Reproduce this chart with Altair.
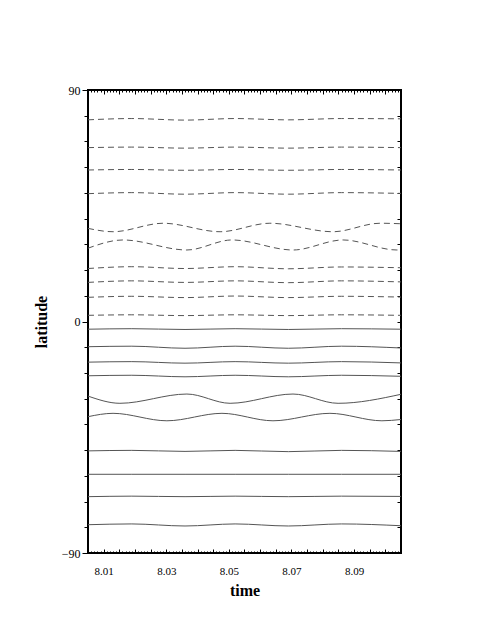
import altair as alt
import pandas as pd

# ---- data ----
T_FLAT = [8.005, 8.019, 8.036, 8.052, 8.069, 8.086, 8.105]

N1 = [78.4, 78.9, 78.3, 78.9, 78.4, 78.9, 78.8]
N2 = [67.6, 67.8, 67.4, 67.8, 67.4, 67.8, 67.6]
N3 = [58.9, 59.1, 58.8, 59.1, 58.8, 59.1, 58.9]
N4 = [49.7, 50.1, 49.5, 50.1, 49.5, 50.1, 49.8]
N7 = [20.6, 21.3, 20.6, 21.3, 20.5, 21.2, 20.9]
N8 = [15.2, 15.8, 15.2, 15.8, 15.1, 15.8, 15.4]
N9 = [9.4, 9.8, 9.3, 9.9, 9.3, 9.8, 9.5]
N10 = [2.4, 2.6, 2.3, 2.6, 2.3, 2.6, 2.4]

S1 = [-3.0, -2.8, -3.1, -2.8, -3.1, -2.8, -3.0]
S2 = [-9.8, -9.6, -10.4, -9.6, -10.4, -9.6, -10.3]
S3 = [-15.8, -15.6, -16.2, -15.6, -16.2, -15.6, -16.1]
S4 = [-21.1, -20.9, -21.5, -20.9, -21.5, -20.9, -21.3]
S7 = [-50.3, -50.1, -50.5, -50.1, -50.6, -50.1, -50.5]
S8 = [-59.4, -59.4, -59.4, -59.4, -59.4, -59.4, -59.4]
S9 = [-68.1, -67.9, -68.1, -67.9, -68.1, -67.9, -68.0]
S10 = [-79.0, -78.7, -79.5, -78.7, -79.5, -78.7, -79.4]

# wavy series (own time keypoints)
T_N5 = [8.005, 8.0130, 8.0290, 8.0472, 8.0631, 8.0833, 8.0983, 8.105]
N5 = [36.2, 34.9, 38.2, 34.9, 38.2, 34.9, 38.2, 38.0]
T_N6 = [8.005, 8.0162, 8.0366, 8.0510, 8.0705, 8.0865, 8.1037, 8.105]
N6 = [28.5, 31.7, 27.8, 31.7, 27.8, 31.7, 27.8, 27.9]
T_S5 = [8.005, 8.0152, 8.0366, 8.0504, 8.0705, 8.0849, 8.105]
S5 = [-29.0, -31.8, -28.2, -31.8, -28.2, -31.8, -28.3]
T_S6 = [8.005, 8.0130, 8.0302, 8.0478, 8.0641, 8.0823, 8.0989, 8.105]
S6 = [-37.0, -35.7, -38.6, -35.7, -38.6, -35.7, -38.6, -38.1]

X_DOMAIN = [8.005, 8.105]
Y_DOMAIN = [-90, 90]
X_LABEL_TICKS = [8.01, 8.03, 8.05, 8.07, 8.09]
X_MINOR_TICKS = [round(8.005 + 0.001 * i, 3) for i in range(101)]
X_MAJOR_TICKS = [round(8.005 + 0.005 * i, 3) for i in range(21)]
Y_LABEL_TICKS = [-90, 0, 90]
Y_MINOR_TICKS = list(range(-90, 91, 10))

north = {"N1": (T_FLAT, N1), "N2": (T_FLAT, N2), "N3": (T_FLAT, N3), "N4": (T_FLAT, N4),
         "N5": (T_N5, N5), "N6": (T_N6, N6), "N7": (T_FLAT, N7), "N8": (T_FLAT, N8),
         "N9": (T_FLAT, N9), "N10": (T_FLAT, N10)}
south = {"S1": (T_FLAT, S1), "S2": (T_FLAT, S2), "S3": (T_FLAT, S3), "S4": (T_FLAT, S4),
         "S5": (T_S5, S5), "S6": (T_S6, S6), "S7": (T_FLAT, S7), "S8": (T_FLAT, S8),
         "S9": (T_FLAT, S9), "S10": (T_FLAT, S10)}

rows = []
for name, (ts, vs) in north.items():
    for t, v in zip(ts, vs):
        rows.append({"series": name, "time": t, "lat": v, "hemi": "N"})
for name, (ts, vs) in south.items():
    for t, v in zip(ts, vs):
        rows.append({"series": name, "time": t, "lat": v, "hemi": "S"})
df = pd.DataFrame(rows)

FONT = "Liberation Serif"
W, H = 313, 463

xs = alt.Scale(domain=X_DOMAIN, nice=False, zero=False)
ys = alt.Scale(domain=Y_DOMAIN, nice=False, zero=False)

base = alt.Chart(df)

# Dashed (north) lines: labeled bottom x axis, labeled left y axis
dashed = base.transform_filter(alt.datum.hemi == "N").mark_line(
    color="#555555", strokeWidth=1, strokeDash=[6, 4], interpolate="monotone"
).encode(
    x=alt.X("time:Q", scale=xs, axis=alt.Axis(
        orient="bottom", values=X_LABEL_TICKS, format=".2f", tickSize=0,
        labelPadding=12, labelFont=FONT, labelFontSize=11, labelColor="black",
        title="time", titleFont=FONT, titleFontSize=16, titleFontWeight="bold",
        titleColor="black", titlePadding=6, domain=False)),
    y=alt.Y("lat:Q", scale=ys, axis=alt.Axis(
        orient="left", values=Y_LABEL_TICKS, tickSize=6, tickColor="black",
        tickWidth=1, labelPadding=2, labelFont=FONT, labelFontSize=12,
        labelColor="black", title="latitude", titleFont=FONT, titleFontSize=16,
        titleFontWeight="bold", titleColor="black", titlePadding=12, domain=False)),
    detail="series:N",
)

# Solid (south) lines: inner minor ticks at bottom, minor ticks on left
solid = base.transform_filter(alt.datum.hemi == "S").mark_line(
    color="#555555", strokeWidth=1, interpolate="monotone"
).encode(
    x=alt.X("time:Q", scale=xs, axis=alt.Axis(
        orient="top", offset=-H, values=X_MINOR_TICKS, tickSize=2,
        tickColor="black", labels=False, title=None, domain=False)),
    y=alt.Y("lat:Q", scale=ys, axis=alt.Axis(
        orient="left", values=Y_MINOR_TICKS, tickSize=4, tickColor="black",
        labels=False, title=None, domain=False)),
    detail="series:N",
)

# invisible layers carrying extra axes
ghost1 = base.mark_line(opacity=0).encode(
    x=alt.X("time:Q", scale=xs, axis=alt.Axis(
        orient="top", offset=-H, values=X_MAJOR_TICKS, tickSize=4,
        tickColor="black", labels=False, title=None, domain=False)),
    y=alt.Y("lat:Q", scale=ys, axis=alt.Axis(
        orient="left", offset=-W, values=Y_MINOR_TICKS, tickSize=4,
        tickColor="black", labels=False, title=None, domain=False)),
    detail="series:N",
)
ghost2 = base.mark_line(opacity=0).encode(
    x=alt.X("time:Q", scale=xs, axis=alt.Axis(
        orient="bottom", offset=-H, values=X_MINOR_TICKS, tickSize=2,
        tickColor="black", labels=False, title=None, domain=False)),
    y=alt.Y("lat:Q", scale=ys, axis=None),
    detail="series:N",
)
ghost3 = base.mark_line(opacity=0).encode(
    x=alt.X("time:Q", scale=xs, axis=alt.Axis(
        orient="bottom", offset=-H, values=X_MAJOR_TICKS, tickSize=4,
        tickColor="black", labels=False, title=None, domain=False)),
    y=alt.Y("lat:Q", scale=ys, axis=None),
    detail="series:N",
)

chart = alt.layer(dashed, solid, ghost1, ghost2, ghost3).resolve_axis(
    x="independent", y="independent"
).properties(
    width=W, height=H,
    autosize=alt.AutoSizeParams(type="none"),
    padding={"left": 80, "top": 82, "right": 40, "bottom": 60},
).configure_view(
    stroke="black", strokeWidth=2
).configure_axis(
    grid=False
)

chart.save("out.html", embed_options={"renderer": "svg", "actions": False})
